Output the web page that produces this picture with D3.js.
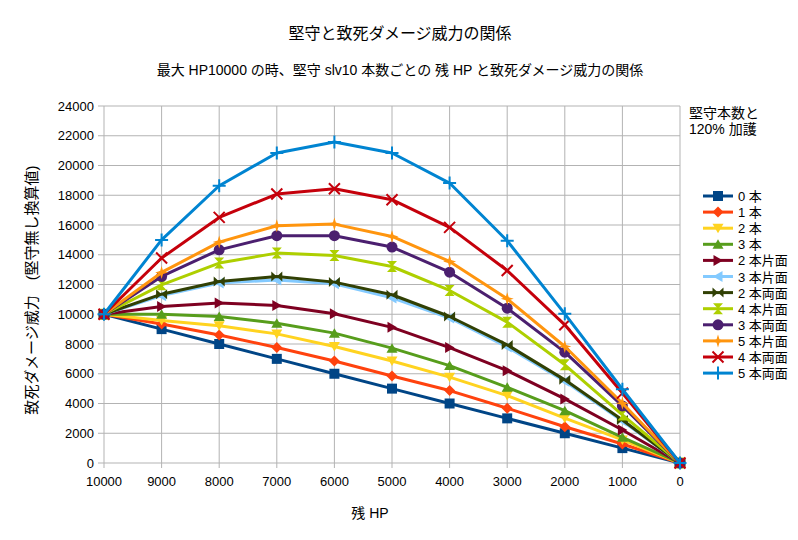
<!DOCTYPE html>
<html>
<head>
<meta charset="utf-8">
<script src="https://cdn.jsdelivr.net/npm/d3@7"></script>
<style>
  body { margin: 0; background: #fff; }
  text { font-family: "Liberation Sans", "Noto Sans CJK JP", sans-serif; fill: #000; }
</style>
</head>
<body>
<svg id="chart"></svg>
<script>
// remaining HP (x axis)
const hp = [10000, 9000, 8000, 7000, 6000, 5000, 4000, 3000, 2000, 1000, 0];
const yTicks = d3.range(0, 24001, 2000);

// series values
const s0 = [10000, 9000, 8000, 7000, 6000, 5000, 4000, 3000, 2000, 1000, 0];
const s1 = [10000, 9350, 8610, 7760, 6860, 5850, 4870, 3680, 2440, 1280, 0];
const s2 = [10000, 9580, 9220, 8680, 7830, 6860, 5770, 4530, 3010, 1550, 0];
const s3 = [10000, 10000, 9850, 9400, 8730, 7720, 6550, 5090, 3520, 1730, 0];
const s2k = [10000, 10520, 10750, 10590, 10030, 9120, 7760, 6210, 4310, 2220, 0];
const s3k = [10000, 11250, 12100, 12310, 12050, 11100, 9750, 7800, 5500, 2820, 0];
const s2r = [10000, 11350, 12200, 12540, 12160, 11310, 9850, 7940, 5590, 2890, 0];
const s4k = [10000, 11980, 13440, 14110, 13950, 13210, 11600, 9470, 6600, 3230, 0];
const s3r = [10000, 12540, 14330, 15280, 15280, 14520, 12830, 10410, 7450, 3840, 0];
const s5k = [10000, 12810, 14850, 15950, 16060, 15230, 13550, 11040, 7830, 4020, 0];
const s4r = [10000, 13780, 16510, 18080, 18440, 17700, 15840, 12940, 9290, 4700, 0];
const s5r = [10000, 15000, 18640, 20840, 21580, 20840, 18820, 14940, 10030, 4960, 0];

const names = ["0 本", "1 本", "2 本", "3 本", "2 本片面", "3 本片面", "2 本両面", "4 本片面", "3 本両面", "5 本片面", "4 本両面", "5 本両面"];
const colors = ["#004586", "#ff420e", "#ffd320", "#579d1c", "#7e0021", "#83caff", "#314004", "#aecf00", "#4b1f6f", "#ff950e", "#c5000b", "#0084d1"];
const markers = ["square", "diamond", "down", "up", "right", "left", "bowtie", "hourglass", "circle", "star", "x", "plus"];
const values = [s0, s1, s2, s3, s2k, s3k, s2r, s4k, s3r, s5k, s4r, s5r];

const W = 798, H = 540;
const svg = d3.select("#chart").attr("width", W).attr("height", H);

const x = d3.scaleLinear([10000, 0], [104, 680]);
const y = d3.scaleLinear([0, 24000], [463, 106]);

// marker shapes
const shapes = {
  square: "M-5,-5h10v10h-10z",
  diamond: "M0,-5.5L5.5,0L0,5.5L-5.5,0z",
  down: "M-5.5,-4.5L5.5,-4.5L0,5z",
  up: "M-5.5,4.5L5.5,4.5L0,-5z",
  right: "M-4.5,-5.5L5,0L-4.5,5.5z",
  left: "M4.5,-5.5L-5,0L4.5,5.5z",
  bowtie: "M-5.5,-5L0,0L-5.5,5zM5.5,-5L0,0L5.5,5z",
  hourglass: "M-5,-5.5L5,-5.5L0,0zM-5,5.5L5,5.5L0,0z",
  star: "M0,-6.5L1.5,-1.5L6.5,0L1.5,1.5L0,6.5L-1.5,1.5L-6.5,0L-1.5,-1.5z",
  x: "M-5.5,-5.5L5.5,5.5M-5.5,5.5L5.5,-5.5",
  plus: "M-6.5,0H6.5M0,-6.5V6.5"
};

function drawMarker(g, type, color) {
  if (type === "circle") {
    g.append("circle").attr("r", 5.5).attr("fill", color);
  } else if (type === "x" || type === "plus") {
    g.append("path").attr("d", shapes[type]).attr("stroke", color)
      .attr("stroke-width", 2).attr("fill", "none");
  } else {
    g.append("path").attr("d", shapes[type]).attr("fill", color);
  }
}

// grid
svg.append("g")
  .selectAll("line.h")
  .data(yTicks)
  .enter()
  .append("line")
  .attr("x1", 98).attr("x2", 680)
  .attr("y1", d => y(d)).attr("y2", d => y(d))
  .attr("stroke", "#b3b3b3").attr("stroke-width", 1);
svg.append("g")
  .selectAll("line.v")
  .data(hp)
  .enter()
  .append("line")
  .attr("x1", d => x(d)).attr("x2", d => x(d))
  .attr("y1", 106).attr("y2", 468)
  .attr("stroke", "#b3b3b3").attr("stroke-width", 1);

// tick labels
svg.append("g")
  .selectAll("text")
  .data(yTicks)
  .enter()
  .append("text")
  .attr("x", 94).attr("y", d => y(d) + 4.5)
  .attr("text-anchor", "end")
  .style("font-size", "13px")
  .text(d => d);
svg.append("g")
  .selectAll("text")
  .data(hp)
  .enter()
  .append("text")
  .attr("x", d => x(d)).attr("y", 486)
  .attr("text-anchor", "middle")
  .style("font-size", "13px")
  .text(d => d);

// series
const line = d3.line().x((d, i) => x(hp[i])).y(d => y(d));
values.forEach((vals, k) => {
  svg.append("path")
    .datum(vals)
    .attr("d", line)
    .attr("fill", "none")
    .attr("stroke", colors[k])
    .attr("stroke-width", 3)
    .attr("stroke-linejoin", "round");
  vals.forEach((v, i) => {
    const g = svg.append("g").attr("transform", "translate(" + x(hp[i]) + "," + y(v) + ")");
    drawMarker(g, markers[k], colors[k]);
  });
});

// titles
svg.append("text").attr("x", 400).attr("y", 39).attr("text-anchor", "middle")
  .style("font-size", "16px").text("堅守と致死ダメージ威力の関係");
svg.append("text").attr("x", 400).attr("y", 75).attr("text-anchor", "middle")
  .style("font-size", "14px").text("最大 HP10000 の時、堅守 slv10 本数ごとの 残 HP と致死ダメージ威力の関係");
svg.append("text").attr("x", 370).attr("y", 518).attr("text-anchor", "middle")
  .style("font-size", "14px").text("残 HP");
svg.append("text")
  .attr("transform", "translate(37,290) rotate(-90)")
  .attr("text-anchor", "middle")
  .style("font-size", "15px")
  .text("致死ダメージ威力　(堅守無し換算値)");

// legend
svg.append("text").attr("x", 689).attr("y", 118).style("font-size", "14px").text("堅守本数と");
svg.append("text").attr("x", 689).attr("y", 134).style("font-size", "14px").text("120% 加護");
names.forEach((n, k) => {
  const ly = 196 + k * 16.1;
  svg.append("line").attr("x1", 703).attr("x2", 733).attr("y1", ly).attr("y2", ly)
    .attr("stroke", colors[k]).attr("stroke-width", 3);
  const g = svg.append("g").attr("transform", "translate(718," + ly + ")");
  drawMarker(g, markers[k], colors[k]);
  svg.append("text").attr("x", 738).attr("y", ly + 5).style("font-size", "13px").text(n);
});
</script>
</body>
</html>
